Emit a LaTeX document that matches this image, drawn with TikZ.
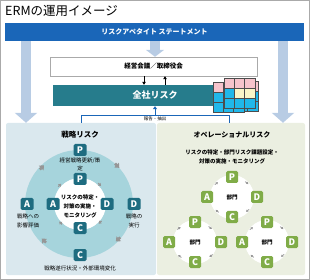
\documentclass[tikz,border=0pt]{standalone}
\usepackage{fontspec}
\setmainfont{Noto Sans CJK JP}
\usepackage{tikz}
\usetikzlibrary{arrows.meta, positioning, calc, decorations.markings}
\definecolor{ermBlue}{RGB}{26, 102, 184}
\definecolor{paleBlue}{RGB}{184, 204, 228}
\definecolor{zenTeal}{RGB}{38, 124, 140}
\definecolor{stratBg}{RGB}{218, 232, 238}
\definecolor{operBg}{RGB}{235, 239, 225}
\definecolor{ringTeal}{RGB}{166, 212, 220}
\definecolor{pdcaTeal}{RGB}{30, 108, 128}
\definecolor{pdcaGreen}{RGB}{128, 172, 72}
\definecolor{cubePink}{RGB}{246, 196, 204}
\definecolor{cubeCyan}{RGB}{32, 184, 234}
\definecolor{cubeYellow}{RGB}{250, 246, 200}
\definecolor{frameGrey}{RGB}{170, 170, 170}
\definecolor{cycGrey}{RGB}{150, 150, 150}

\tikzset{
    panel/.style={minimum height=152pt, rounded corners=2pt, inner sep=0pt},
    paleArrow/.style={paleBlue, line width=10pt, -{Triangle[length=10pt, width=22pt]}},
    pdcaT/.style={fill=pdcaTeal, rounded corners=1.5pt, minimum width=13pt, minimum height=12pt, inner sep=0pt, text=white, font=\bfseries\fontsize{9}{9}\selectfont},
    pdcaG/.style={pdcaT, fill=pdcaGreen, minimum width=12pt},
    lbl/.style={font=\fontsize{5.5}{8.5}\selectfont, align=center, inner sep=0pt},
    cycBig/.style={postaction={decorate}, decoration={markings, mark=at position 0.5 with {\draw[cycGrey, line width=2.5pt, -{Triangle[length=4pt, width=6.5pt]}] (-4pt,0) -- (2pt,0);}}},
    cycSmall/.style={postaction={decorate}, decoration={markings, mark=at position 0.5 with {\draw[cycGrey, line width=1.2pt, -{Triangle[length=2.5pt, width=3.5pt]}] (-2.5pt,0) -- (1.5pt,0);}}},
    cycTiny/.style={postaction={decorate}, decoration={markings, mark=at position 0.5 with {\draw[cycGrey, line width=0.8pt, -{Triangle[length=2pt, width=2.5pt]}] (-2.5pt,0) -- (1.5pt,0);}}},
    fbLine/.style={ermBlue, line width=0.8pt}
}

\begin{document}
\begin{tikzpicture}[x=1pt, y=-1pt]
    \useasboundingbox (0,0) rectangle (310,280);
    \draw[frameGrey, line width=0.8pt] (0.5,0.5) rectangle (309.5,279.5);

    % Title
    \node[anchor=west, inner sep=0pt, font=\fontsize{12.5}{14}\selectfont] (ttl) at (5,11) {ERMの運用イメージ};

    % Risk appetite statement
    \node[fill=ermBlue, minimum width=299pt, minimum height=18pt, inner sep=0pt, text=white, font=\bfseries\fontsize{7}{8}\selectfont] (ras) at (154.5,32) {リスクアペタイト ステートメント};

    % Panels
    \node[panel, fill=stratBg, minimum width=150pt] (strat) at (81,199) {};
    \node[panel, fill=operBg, minimum width=148pt] (oper) at (231,199) {};

    % Board and company-wide risk
    \node[draw=frameGrey, fill=white, minimum width=207pt, minimum height=19pt, inner sep=0pt, font=\bfseries\fontsize{6.5}{7}\selectfont] (meet) at (153.5,66.5) {経営会議／取締役会};
    \node[fill=zenTeal, minimum width=204pt, minimum height=21pt, inner sep=0pt, text=white, font=\bfseries\fontsize{9}{10}\selectfont] (zen) at (155,95.5) {全社リスク};

    % Cube
    \foreach \i in {0,1,2}
        \foreach \j/\c in {0/cubePink, 1/cubeCyan, 2/cubeCyan}
            \filldraw[fill=\c, draw=black!70, line width=0.4pt] (227+\i*10.3, 81+\j*10) rectangle ++(10.3,10);
    \foreach \i in {0,1,2}
        \foreach \j/\c in {0/cubePink, 1/cubeCyan, 2/cubeCyan}
            \filldraw[fill=\c, draw=black!70, line width=0.4pt] (213+\i*10.3, 82+\j*10) rectangle ++(10.3,10);
    \foreach \i/\j/\c in {0/0/cubePink, 1/0/cubePink, 2/0/cubePink, 0/1/cubeCyan, 1/1/cubeYellow, 2/1/cubeYellow, 0/2/cubeCyan, 1/2/cubeCyan, 2/2/cubeCyan}
        \filldraw[fill=\c, draw=black!70, line width=0.4pt] (224+\i*10.3, 78+\j*10) rectangle ++(10.3,10);

    % Arrows from the statement
    \coordinate (colL) at (26,0);
    \coordinate (colR) at (283,0);
    \coordinate (colM) at (155,0);
    \draw[paleArrow] (ras.south -| colL) -- (strat.north -| colL);
    \draw[paleArrow] (ras.south -| colR) -- (oper.north -| colR);
    \draw[paleBlue, line width=10pt, -{Triangle[length=7pt, width=18pt]}] (ras.south -| colM) -- (meet.north -| colM);

    \coordinate (colD) at (144,0);
    \coordinate (colU) at (165,0);
    \draw[line width=0.6pt, -{Triangle[length=3pt, width=3.5pt]}] (meet.south -| colD) -- (zen.north -| colD);
    \draw[line width=0.6pt, -{Triangle[length=3pt, width=3.5pt]}] (zen.north -| colU) -- (meet.south -| colU);

    % Report / extraction
    \coordinate (fbL) at (81,115);
    \coordinate (fbR) at (229,115);
    \draw[fbLine] (strat.north -| fbL) -- (fbL) -- (fbR) -- (oper.north -| fbR);
    \draw[fbLine, -{Triangle[length=3pt, width=4pt]}] (fbL -| zen.south) -- (zen.south);
    \node[font=\fontsize{4.5}{5}\selectfont, inner sep=0pt] (fbLbl) at (155,119) {報告・抽出};

    % Strategic risk
    \node[font=\bfseries\fontsize{7.5}{8}\selectfont, inner sep=0pt] (stratTtl) at (80,135) {戦略リスク};
    \fill[ringTeal] (79,204) circle (54pt);
    \fill[white] (80,204) circle (26pt);

    \node[pdcaT] (sP) at (80,150) {P};
    \node[pdcaT] (sD) at (134,204) {D};
    \node[pdcaT] (sC) at (80,255) {C};
    \node[pdcaT] (sA) at (27,204) {A};
    \node[pdcaT] (iP) at (80,179) {P};
    \node[pdcaT] (iD) at (107,204) {D};
    \node[pdcaT] (iC) at (80,228) {C};
    \node[pdcaT] (iA) at (53,204) {A};

    \node[lbl] (sPtxt) at (80,164.5) {経営戦略更新/策\\定};
    \node[lbl] (sAtxt) at (28,221) {戦略への\\影響評価};
    \node[lbl] (sDtxt) at (134,221) {戦略の\\実行};
    \node[lbl] (sCtxt) at (80,268) {戦略遂行状況・外部環境変化};
    \node[lbl, font=\bfseries\fontsize{5.5}{9}\selectfont] (iTxt) at (80,206) {リスクの特定・\\対策の実施・\\モニタリング};

    \path[cycBig] (sA) to[bend left=36] (sP);
    \path[cycBig] (sP) to[bend left=36] (sD);
    \path[cycBig] (sD) to[bend left=36] (sC);
    \path[cycBig] (sC) to[bend left=36] (sA);
    \path[cycSmall] (iA) to[bend left=40] (iP);
    \path[cycSmall] (iP) to[bend left=40] (iD);
    \path[cycSmall] (iD) to[bend left=40] (iC);
    \path[cycSmall] (iC) to[bend left=40] (iA);

    % Operational risk
    \node[font=\bfseries\fontsize{7}{8}\selectfont, inner sep=0pt] (operTtl) at (232,135) {オペレーショナルリスク};
    \node[lbl, font=\bfseries\fontsize{5.5}{9}\selectfont] (operTxt) at (232,156.5) {リスクの特定・部門リスク課題設定・\\対策の実施・モニタリング};

    \fill[white] (232,197) circle (22pt);
    \fill[white] (195,242) circle (22pt);
    \fill[white] (267,242) circle (22pt);

    \node[font=\bfseries\fontsize{5.5}{6}\selectfont, inner sep=0pt] (dept1) at (232,197) {部門};
    \node[pdcaG] (d1P) at (232,177) {P};
    \node[pdcaG] (d1D) at (257,197) {D};
    \node[pdcaG] (d1C) at (232,217) {C};
    \node[pdcaG] (d1A) at (207,197) {A};

    \node[font=\bfseries\fontsize{5.5}{6}\selectfont, inner sep=0pt] (dept2) at (195,242) {部門};
    \node[pdcaG] (d2P) at (195,222) {P};
    \node[pdcaG] (d2D) at (221,242) {D};
    \node[pdcaG] (d2C) at (195,262) {C};
    \node[pdcaG] (d2A) at (169,242) {A};

    \node[font=\bfseries\fontsize{5.5}{6}\selectfont, inner sep=0pt] (dept3) at (267,242) {部門};
    \node[pdcaG] (d3P) at (267,222) {P};
    \node[pdcaG] (d3D) at (292,242) {D};
    \node[pdcaG] (d3C) at (267,262) {C};
    \node[pdcaG] (d3A) at (242,242) {A};

    \path[cycTiny] (d1A) to[bend left=22] (d1P);
    \path[cycTiny] (d1P) to[bend left=22] (d1D);
    \path[cycTiny] (d1D) to[bend left=22] (d1C);
    \path[cycTiny] (d1C) to[bend left=22] (d1A);
    \path[cycTiny] (d2A) to[bend left=22] (d2P);
    \path[cycTiny] (d2P) to[bend left=22] (d2D);
    \path[cycTiny] (d2D) to[bend left=22] (d2C);
    \path[cycTiny] (d2C) to[bend left=22] (d2A);
    \path[cycTiny] (d3A) to[bend left=22] (d3P);
    \path[cycTiny] (d3P) to[bend left=22] (d3D);
    \path[cycTiny] (d3D) to[bend left=22] (d3C);
    \path[cycTiny] (d3C) to[bend left=22] (d3A);
\end{tikzpicture}
\end{document}
